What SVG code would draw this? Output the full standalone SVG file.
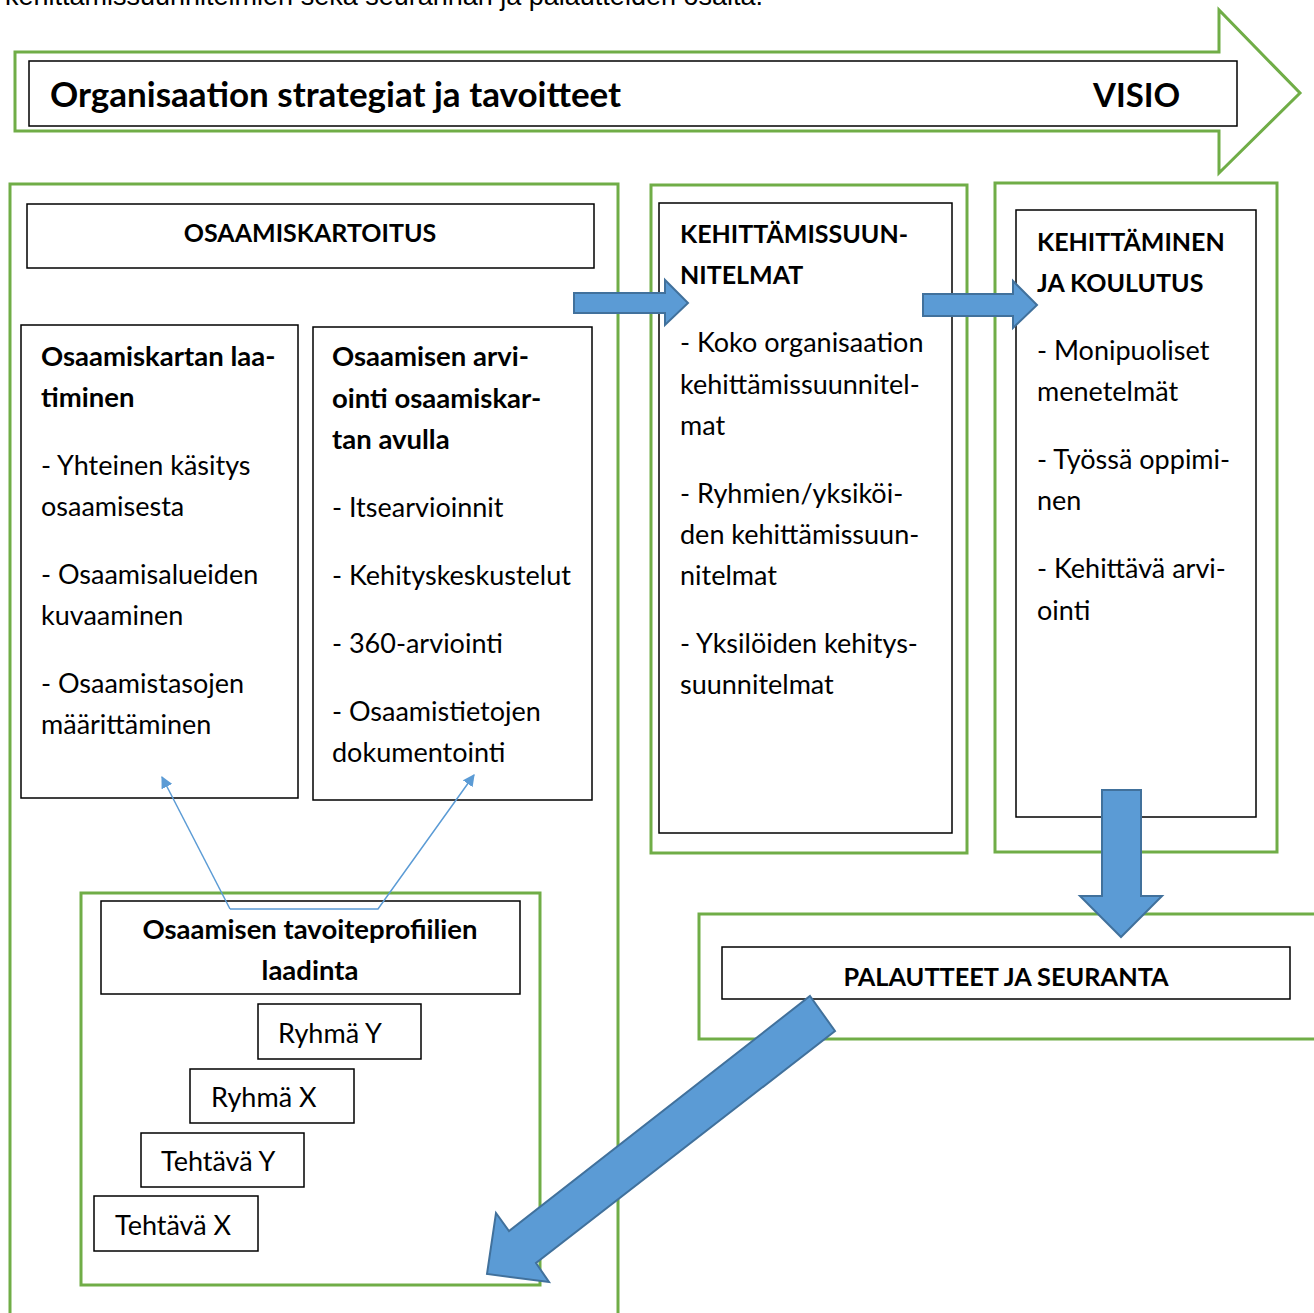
<svg xmlns="http://www.w3.org/2000/svg" width="1314" height="1313" viewBox="0 0 1314 1313">
<defs>
<style>
.g{fill:none;stroke:#70AD47;stroke-width:3}
.b{fill:#fff;stroke:#000;stroke-width:1.5}
.t{font-family:Lato,"Open Sans",sans-serif;font-size:27px;fill:#000}
.h{font-family:Lato,"Open Sans",sans-serif;font-size:27.5px;font-weight:bold;fill:#000}
.big{fill:#5B9BD5;stroke:#41719C;stroke-width:2}
.thin{fill:none;stroke:#5B9BD5;stroke-width:1.5}
</style>
<marker id="ah" viewBox="0 0 10 10" refX="9" refY="5" markerWidth="12" markerHeight="12" markerUnits="userSpaceOnUse" orient="auto"><path d="M0,0 L10,5 L0,10 z" fill="#5B9BD5"/></marker>
</defs>
<rect width="1314" height="1313" fill="#fff"/>
<text x="5" y="5" style="font-family:'Liberation Sans',Arial,sans-serif;font-size:27px;fill:#000">kehittämissuunnitelmien sekä seurannan ja palautteiden osalta.</text>

<g id="strategy">
<path class="g" d="M15,52 L1219,52 L1219,10 L1300,93 L1219,173 L1219,131 L15,131 Z" fill="#fff"/>
<rect class="b" x="29" y="61" width="1208" height="65"/>
<text class="h" x="50" y="107" style="font-size:35px">Organisaation strategiat ja tavoitteet</text>
<text class="h" x="1093" y="107" style="font-size:33px">VISIO</text>
</g>

<g id="osaamiskartoitus">
<rect class="g" x="10" y="184" width="608" height="1140"/>
<rect class="b" x="27" y="204" width="567" height="64"/>
<text class="h" x="310" y="242" text-anchor="middle" style="font-size:25px">OSAAMISKARTOITUS</text>
</g>

<g id="kartan-laatiminen">
<rect class="b" x="21" y="325" width="277" height="473"/>
<text class="h" x="41" y="366">Osaamiskartan laa-</text>
<text class="h" x="41" y="407">timinen</text>
<text class="t" x="41" y="475">- Yhteinen käsitys</text>
<text class="t" x="41" y="516">osaamisesta</text>
<text class="t" x="41" y="584">- Osaamisalueiden</text>
<text class="t" x="41" y="625">kuvaaminen</text>
<text class="t" x="41" y="693">- Osaamistasojen</text>
<text class="t" x="41" y="734">määrittäminen</text>
</g>

<g id="arviointi">
<rect class="b" x="313" y="327" width="279" height="473"/>
<text class="h" x="332" y="366">Osaamisen arvi-</text>
<text class="h" x="332" y="408">ointi osaamiskar-</text>
<text class="h" x="332" y="449">tan avulla</text>
<text class="t" x="332" y="517">- Itsearvioinnit</text>
<text class="t" x="332" y="585">- Kehityskeskustelut</text>
<text class="t" x="332" y="653">- 360-arviointi</text>
<text class="t" x="332" y="721">- Osaamistietojen</text>
<text class="t" x="332" y="762">dokumentointi</text>
</g>

<g id="suunnitelmat">
<rect class="g" x="651" y="185" width="316" height="668"/>
<rect class="b" x="659" y="203" width="293" height="630"/>
<text class="h" x="680" y="243" style="font-size:25px">KEHITTÄMISSUUN-</text>
<text class="h" x="680" y="284" style="font-size:25px">NITELMAT</text>
<text class="t" x="680" y="352">- Koko organisaation</text>
<text class="t" x="680" y="394">kehittämissuunnitel-</text>
<text class="t" x="680" y="435">mat</text>
<text class="t" x="680" y="503">- Ryhmien/yksiköi-</text>
<text class="t" x="680" y="544">den kehittämissuun-</text>
<text class="t" x="680" y="585">nitelmat</text>
<text class="t" x="680" y="653">- Yksilöiden kehitys-</text>
<text class="t" x="680" y="694">suunnitelmat</text>
</g>

<g id="koulutus">
<rect class="g" x="995" y="183" width="282" height="669"/>
<rect class="b" x="1016" y="210" width="240" height="607"/>
<text class="h" x="1037" y="251" style="font-size:25px">KEHITTÄMINEN</text>
<text class="h" x="1037" y="292" style="font-size:25px">JA KOULUTUS</text>
<text class="t" x="1037" y="360">- Monipuoliset</text>
<text class="t" x="1037" y="401">menetelmät</text>
<text class="t" x="1037" y="469">- Työssä oppimi-</text>
<text class="t" x="1037" y="510">nen</text>
<text class="t" x="1037" y="578">- Kehittävä arvi-</text>
<text class="t" x="1037" y="620">ointi</text>
</g>

<g id="palautteet">
<rect class="g" x="699" y="914" width="630" height="125"/>
<rect class="b" x="722" y="947" width="568" height="52"/>
<text class="h" x="1006" y="986" text-anchor="middle" style="font-size:25.3px">PALAUTTEET JA SEURANTA</text>
</g>

<g id="tavoiteprofiilit">
<rect class="g" x="81" y="893" width="459" height="392"/>
<rect class="b" x="101" y="901" width="419" height="93"/>
<text class="h" x="310" y="939" text-anchor="middle">Osaamisen tavoiteprofiilien</text>
<text class="h" x="310" y="980" text-anchor="middle">laadinta</text>
</g>
<g id="ryhma-y"><rect class="b" x="258" y="1004" width="163" height="55"/><text class="t" x="278" y="1043">Ryhmä Y</text></g>
<g id="ryhma-x"><rect class="b" x="190" y="1069" width="164" height="54"/><text class="t" x="211" y="1107">Ryhmä X</text></g>
<g id="tehtava-y"><rect class="b" x="141" y="1133" width="163" height="54"/><text class="t" x="161" y="1171">Tehtävä Y</text></g>
<g id="tehtava-x"><rect class="b" x="94" y="1196" width="164" height="55"/><text class="t" x="115" y="1235">Tehtävä X</text></g>

<g id="connectors">
<path class="big" d="M574,293 L665,293 L665,280 L688,303 L665,325 L665,313 L574,313 Z"/>
<path class="big" d="M923,294 L1013,294 L1013,281 L1037,305 L1013,328 L1013,316 L923,316 Z"/>
<path class="big" d="M1102,790 L1141,790 L1141,896 L1162,896 L1121,937 L1080,896 L1102,896 Z"/>
<path class="big" d="M810,996 L835,1031 L536,1263 L549,1282 L487,1274 L496,1213 L509,1231 Z"/>
<path class="thin" d="M230,909 L162,777" marker-end="url(#ah)"/>
<path class="thin" d="M230,909 L378,909 L474,775" marker-end="url(#ah)"/>
</g>
</svg>
